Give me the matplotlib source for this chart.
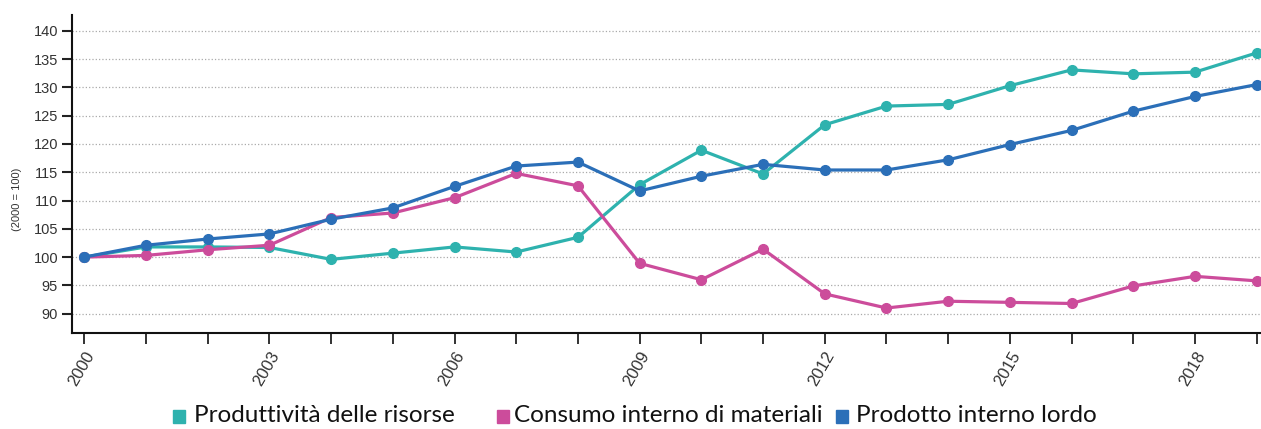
import matplotlib as mpl

mpl.rcParams["font.family"] = ["Liberation Sans", "DejaVu Sans"]

import matplotlib.pyplot as plt
from matplotlib.patches import Rectangle

years = list(range(2000, 2020))

produttivita = [100, 101.8, 101.8, 101.7, 99.6, 100.7, 101.8, 100.9, 103.5, 112.8,
                118.9, 114.7, 123.4, 126.7, 127.0, 130.3, 133.1, 132.4, 132.7, 136.1]
consumo = [100, 100.3, 101.3, 102.1, 107.0, 107.8, 110.5, 114.8, 112.6, 98.9,
           96.0, 101.4, 93.5, 91.0, 92.2, 92.0, 91.8, 94.9, 96.6, 95.8]
pil = [100, 102.1, 103.2, 104.1, 106.7, 108.7, 112.5, 116.1, 116.8, 111.7,
       114.3, 116.4, 115.4, 115.4, 117.2, 119.9, 122.4, 125.8, 128.4, 130.5]

series_labels = ["Produttività delle risorse", "Consumo interno di materiali",
                 "Prodotto interno lordo"]
colors = ["#2eb2ae", "#cc4c9b", "#2b6fb8"]

y_ticks = list(range(90, 145, 5))
x_labeled = [2000, 2003, 2006, 2009, 2012, 2015, 2018]

fig = plt.figure(figsize=(12.61, 4.29), dpi=100)
ax = fig.add_axes([0.0571, 0.224, 0.9429, 0.741])

for vals, col in zip([produttivita, consumo, pil], colors):
    ax.plot(years, vals, color=col, linewidth=2.3, marker="o", markersize=7,
            solid_joinstyle="round", zorder=3)

ax.set_xlim(1999.8, 2019.07)
ax.set_ylim(86.6, 142.8)
ax.set_yticks(y_ticks)
ax.set_yticklabels([str(v) for v in y_ticks], fontsize=10.5, color="#333333")
ax.set_xticks(years, minor=True)
ax.set_xticks(x_labeled)
ax.set_xticklabels([str(v) for v in x_labeled], rotation=60, ha="right",
                   rotation_mode="anchor", fontsize=12, color="#333333")
ax.tick_params(axis="x", which="both", length=8, width=1.3, color="#222222")
ax.tick_params(axis="y", length=7, width=1.5, color="#222222", pad=3)

ax.grid(axis="y", linestyle=":", color="#aaaaaa", linewidth=0.9)
ax.set_axisbelow(True)
for s in ["top", "right"]:
    ax.spines[s].set_visible(False)
for s in ["left", "bottom"]:
    ax.spines[s].set_linewidth(1.5)
    ax.spines[s].set_color("#111111")

fig.text(0.0135, 0.535, "(2000 = 100)", rotation=90, fontsize=8,
         color="#333333", ha="center", va="center")

# legend drawn by hand to keep the odd spacing of the original
sq_x = [173, 497, 836]
txt_x = [194, 514, 856]
W, H = 1261, 429
for sx, tx, lab, col in zip(sq_x, txt_x, series_labels, colors):
    fig.add_artist(Rectangle((sx / W, 1 - 423 / H), 12 / W, 13 / H,
                             transform=fig.transFigure, color=col))
    fig.text(tx / W, 1 - 416 / H, lab, fontsize=17.5, family=["Lato", "DejaVu Sans"],
             va="center", ha="left", color="#111111")

fig.savefig("out.png", dpi=100)
